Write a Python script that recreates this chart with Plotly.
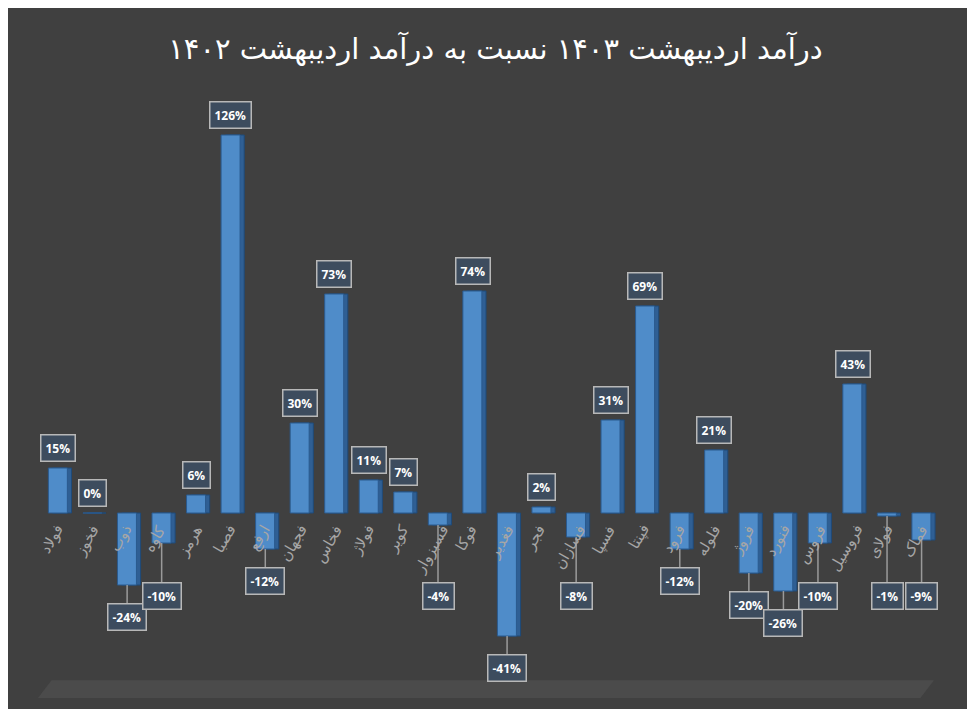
import plotly.graph_objects as go

# categories and growth (%)
symbols = ['فولاد', 'فخوز', 'ذوب', 'کاوه', 'هرمز', 'فصبا', 'ارفع', 'فجهان', 'فخاس',
           'فولاژ', 'کویر', 'فسبزوار', 'فوکا', 'فغدیر', 'فجر', 'فسازان', 'فسپا',
           'فپنتا', 'فرود', 'فلوله', 'فروژ', 'فنورد', 'فروس', 'فروسیل', 'فولای', 'فماک']
growth = [15, 0, -24, -10, 6, 126, -12, 30, 73, 11, 7, -4, 74, -41, 2, -8, 31,
          69, -12, 21, -20, -26, -10, 43, -1, -9]

title_text = 'درآمد اردیبهشت ۱۴۰۳ نسبت به درآمد اردیبهشت ۱۴۰۲'

PX = 3  # pixels per percent (570 px plot / 190 %)

fig = go.Figure()

# fake side/depth for a 3D look
fig.add_trace(go.Bar(
    x=list(range(len(symbols))), y=growth,
    marker=dict(color='#2f5f94', line=dict(color='#1f4a78', width=1)),
    width=0.55, offset=-0.18, hoverinfo='skip', showlegend=False
))
fig.add_trace(go.Bar(
    x=list(range(len(symbols))), y=growth,
    marker=dict(color='#4f8cc9', line=dict(color='#2a5a8e', width=1)),
    width=0.55, offset=-0.3, showlegend=False
))

box = dict(font=dict(color='white', size=12, family='Open Sans'),
           bgcolor='#3d4c5e', bordercolor='#b8b8b8', borderwidth=1.5, borderpad=4)

for i, (s, v) in enumerate(zip(symbols, growth)):
    if v >= 0:
        fig.add_annotation(x=i - 0.02, y=v, text='<b>%d%%</b>' % v, showarrow=False,
                           yanchor='bottom', yshift=6, **box)
    else:
        # small negatives get a leader line down to the label box
        drop = 6 if v <= -12 else (17 + v) * PX + 6
        fig.add_annotation(x=i - 0.02, y=v, text='<b>%d%%</b>' % v, showarrow=True,
                           arrowhead=0, arrowcolor='#9a9a9a', arrowwidth=1.5,
                           ax=0, ay=drop + 12, yanchor='top', **box)
    fig.add_annotation(
        x=i - 0.2, y=0, text=s, showarrow=False, textangle=-60,
        xanchor='center', yanchor='top', yshift=-6,
        font=dict(color='#a6a6a6', size=15, family='DejaVu Sans')
    )

# floor of the 3D plot
fig.add_shape(type='path', xref='paper', yref='paper',
              path='M 0.015 -0.004 L 0.99 -0.004 L 0.975 -0.035 L 0.0 -0.035 Z',
              fillcolor='#4b4b4b', line=dict(width=0), layer='below')

fig.update_layout(
    width=975, height=709,
    paper_bgcolor='#404040', plot_bgcolor='#404040',
    title=dict(text=title_text, x=0.5, y=0.943, xanchor='center', yanchor='middle',
               font=dict(color='white', size=29, family='DejaVu Sans')),
    margin=dict(l=30, r=40, t=100, b=39),
    barmode='overlay', bargap=0.4,
    xaxis=dict(visible=False, range=[-0.6, len(symbols) - 0.4]),
    yaxis=dict(visible=False, range=[-55, 135]),
)

fig.write_html('out.html')
